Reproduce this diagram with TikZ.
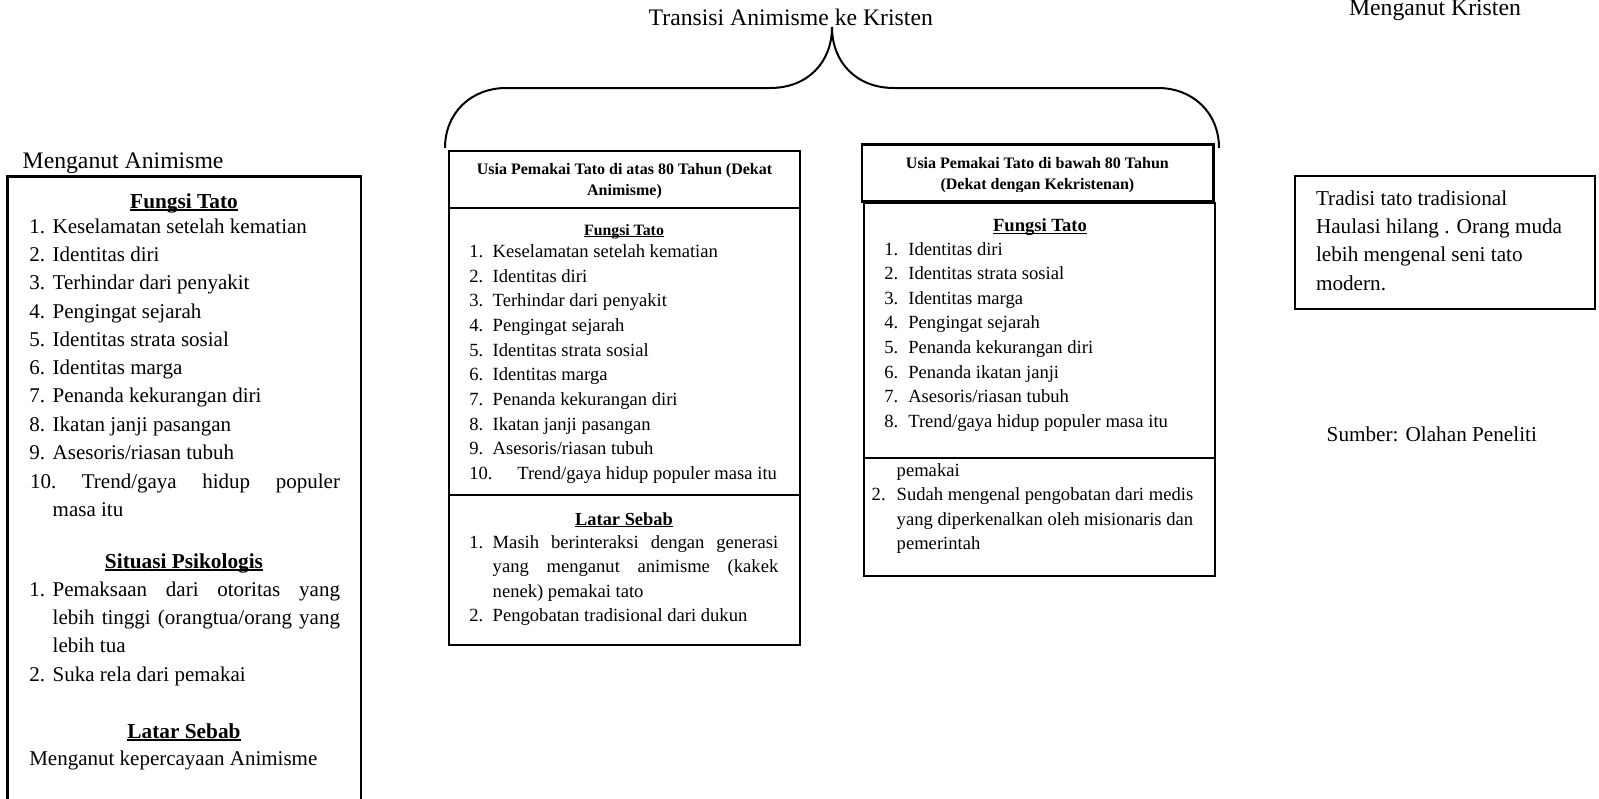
\documentclass[tikz,border=0pt]{standalone}
\usepackage{fontspec}
\setmainfont{Liberation Serif}
\newcommand{\numitem}[3]{\makebox[#1][l]{#2}#3}
\newcommand{\myul}[1]{\setbox0\hbox{#1}\leavevmode\rlap{\rule[-0.11em]{\wd0}{0.06em}}\copy0}
\tikzset{
  every node/.style={inner sep=0pt, outer sep=0pt},
  lab/.style={anchor=base, font=\fontsize{11.85}{14}\selectfont},
  ltx/.style={anchor=base west, font=\fontsize{10.5}{12}\selectfont},
  lhd/.style={anchor=base, font=\fontsize{10.65}{12}\selectfont\bfseries},
  mtx/.style={anchor=base west, font=\fontsize{9.3}{11}\selectfont},
  mhd/.style={anchor=base, font=\fontsize{9.2}{11}\selectfont\bfseries},
  shd/.style={anchor=base, font=\fontsize{7.9}{9}\selectfont\bfseries},
  hdr/.style={anchor=base, font=\fontsize{8}{9}\selectfont\bfseries},
  rtx/.style={anchor=base west, font=\fontsize{10.6}{12}\selectfont},
  box/.style={draw, line width=1.1pt},
  brace/.style={draw, line width=1pt},
}
\begin{document}
\begin{tikzpicture}[x=0.5pt, y=-0.5pt]
\useasboundingbox (0,0) rectangle (1599,798);

% top labels
\node[lab] (title) at (790.8,25) {Transisi Animisme ke Kristen};
\node[lab] (mkris) at (1435,15.5) {Menganut Kristen};
\node[lab, anchor=base west] (manim) at (22.7,168.3) {Menganut Animisme};

% brace
\coordinate (bL) at (445,148);
\coordinate (bR) at (1219,148);
\coordinate (tip) at (832,27);
\draw[brace] (bL) .. controls (445,112) and (472,88) .. (506,88) -- (770,88)
  .. controls (808,88) and (832,62) .. (tip)
  .. controls (832,62) and (856,88) .. (894,88) -- (1158,88)
  .. controls (1192,88) and (1219,112) .. (bR);

% left box
\draw[box] (7.5,805) -- (7.5,176.5) -- (361,176.5) -- (361,805);
\node[lhd] (lf) at (184,208.3) {\myul{Fungsi Tato}};
\node[ltx] (l1) at (29.3,233.3) {\numitem{11.7pt}{1.}{Keselamatan setelah kematian}};
\node[ltx] (l2) at (29.3,261.6) {\numitem{11.7pt}{2.}{Identitas diri}};
\node[ltx] (l3) at (29.3,289.8) {\numitem{11.7pt}{3.}{Terhindar dari penyakit}};
\node[ltx] (l4) at (29.3,318.1) {\numitem{11.7pt}{4.}{Pengingat sejarah}};
\node[ltx] (l5) at (29.3,346.3) {\numitem{11.7pt}{5.}{Identitas strata sosial}};
\node[ltx] (l6) at (29.3,374.6) {\numitem{11.7pt}{6.}{Identitas marga}};
\node[ltx] (l7) at (29.3,402.8) {\numitem{11.7pt}{7.}{Penanda kekurangan diri}};
\node[ltx] (l8) at (29.3,431.1) {\numitem{11.7pt}{8.}{Ikatan janji pasangan}};
\node[ltx] (l9) at (29.3,459.3) {\numitem{11.7pt}{9.}{Asesoris/riasan tubuh}};
\node[ltx] (l10) at (30,488.3) {\hbox to 155pt{10.\hfill Trend/gaya\hfill hidup\hfill populer}};
\node[ltx] (l10b) at (52.7,516.7) {masa itu};
\node[lhd] (lsp) at (184,568.3) {\myul{Situasi Psikologis}};
\node[ltx] (ls1) at (29.3,596.7) {\numitem{11.7pt}{1.}{\hbox to 143.65pt{Pemaksaan\hfill dari\hfill otoritas\hfill yang}}};
\node[ltx] (ls1b) at (52.7,624.3) {\hbox to 143.65pt{lebih\hfill tinggi\hfill (orangtua/orang\hfill yang}};
\node[ltx] (ls1c) at (52.7,652.7) {lebih tua};
\node[ltx] (ls2) at (29.3,681.7) {\numitem{11.7pt}{2.}{Suka rela dari pemakai}};
\node[lhd] (lls) at (184,738.3) {\myul{Latar Sebab}};
\node[ltx] (llt) at (29.3,765) {Menganut kepercayaan Animisme};

% middle box 1
\draw[box] (449,151) rectangle (800,645);
\draw[box] (449,208) -- (800,208);
\draw[box] (449,495) -- (800,495);
\node[hdr] (h1a) at (624.5,174.5) {Usia Pemakai Tato di atas 80 Tahun (Dekat};
\node[hdr] (h1b) at (624.5,195) {Animisme)};
\node[shd] (m1f) at (624,235.5) {\myul{Fungsi Tato}};
\node[mtx] (m1) at (469.3,257.3) {\numitem{11.7pt}{1.}{Keselamatan setelah kematian}};
\node[mtx] (m2) at (469.3,282) {\numitem{11.7pt}{2.}{Identitas diri}};
\node[mtx] (m3) at (469.3,306.6) {\numitem{11.7pt}{3.}{Terhindar dari penyakit}};
\node[mtx] (m4) at (469.3,331.3) {\numitem{11.7pt}{4.}{Pengingat sejarah}};
\node[mtx] (m5) at (469.3,356) {\numitem{11.7pt}{5.}{Identitas strata sosial}};
\node[mtx] (m6) at (469.3,380.7) {\numitem{11.7pt}{6.}{Identitas marga}};
\node[mtx] (m7) at (469.3,405.3) {\numitem{11.7pt}{7.}{Penanda kekurangan diri}};
\node[mtx] (m8) at (469.3,430) {\numitem{11.7pt}{8.}{Ikatan janji pasangan}};
\node[mtx] (m9) at (469.3,454.7) {\numitem{11.7pt}{9.}{Asesoris/riasan tubuh}};
\node[mtx] (m10) at (469.3,479.3) {\numitem{24pt}{10.}{Trend/gaya hidup populer masa itu}};
\node[mhd] (m1l) at (624,525) {\myul{Latar Sebab}};
\node[mtx] (m1l1) at (469.3,548.3) {\numitem{11.7pt}{1.}{\hbox to 142.8pt{Masih\hfill berinteraksi\hfill dengan\hfill generasi}}};
\node[mtx] (m1l1b) at (492.7,572.8) {\hbox to 142.8pt{yang\hfill menganut\hfill animisme\hfill (kakek}};
\node[mtx] (m1l1c) at (492.7,597.3) {nenek) pemakai tato};
\node[mtx] (m1l2) at (469.3,621.8) {\numitem{11.7pt}{2.}{Pengobatan tradisional dari dukun}};

% middle box 2
\draw[box] (861.7,144.5) rectangle (1213.5,201.5);
\draw[box] (864,203) rectangle (1215,576);
\draw[box] (864,458) -- (1215,458);
\node[hdr] (h2a) at (1037.4,168.3) {Usia Pemakai Tato di bawah 80 Tahun};
\begin{scope}
  \clip (862,150) rectangle (1213,191);
  \node[hdr] (h2b) at (1037.4,189) {(Dekat dengan Kekristenan)};
\end{scope}
\node[mhd, font=\fontsize{9.3}{11}\selectfont\bfseries] (m2f) at (1040,231.7) {\myul{Fungsi Tato}};
\node[mtx] (n1) at (884.3,255) {\numitem{12pt}{1.}{Identitas diri}};
\node[mtx] (n2) at (884.3,279.6) {\numitem{12pt}{2.}{Identitas strata sosial}};
\node[mtx] (n3) at (884.3,304.2) {\numitem{12pt}{3.}{Identitas marga}};
\node[mtx] (n4) at (884.3,328.8) {\numitem{12pt}{4.}{Pengingat sejarah}};
\node[mtx] (n5) at (884.3,353.4) {\numitem{12pt}{5.}{Penanda kekurangan diri}};
\node[mtx] (n6) at (884.3,378) {\numitem{12pt}{6.}{Penanda ikatan janji}};
\node[mtx] (n7) at (884.3,402.6) {\numitem{12pt}{7.}{Asesoris/riasan tubuh}};
\node[mtx] (n8) at (884.3,427.2) {\numitem{12pt}{8.}{Trend/gaya hidup populer masa itu}};
\node[mtx] (m2p) at (896.7,476) {pemakai};
\node[mtx] (m2s) at (871.7,500.5) {\numitem{12.5pt}{2.}{Sudah mengenal pengobatan dari medis}};
\node[mtx] (m2s2) at (896.7,525) {yang diperkenalkan oleh misionaris dan};
\node[mtx] (m2s3) at (896.7,549.5) {pemerintah};

% right box
\draw[box] (1295,176) rectangle (1595,309);
\node[rtx] (r1) at (1316,205) {Tradisi tato tradisional};
\node[rtx] (r2) at (1316,233.3) {Haulasi hilang . Orang muda};
\node[rtx] (r3) at (1316,261.7) {lebih mengenal seni tato};
\node[rtx] (r4) at (1316,290) {modern.};
\node[rtx] (src) at (1326.7,441.7) {Sumber: Olahan Peneliti};
\end{tikzpicture}
\end{document}
